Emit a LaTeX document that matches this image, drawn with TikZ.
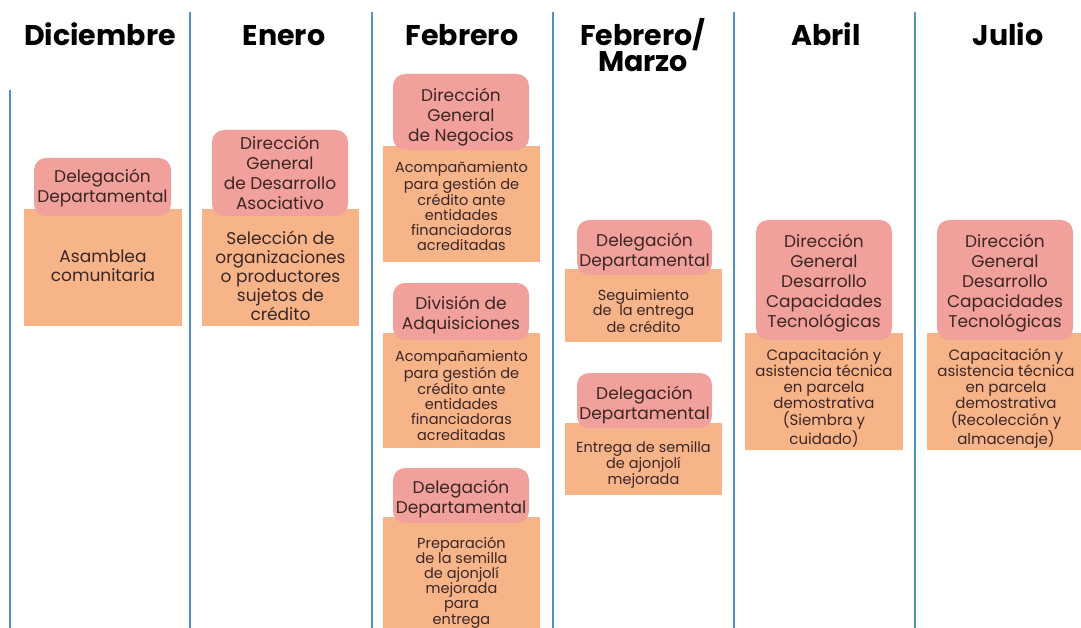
\documentclass[tikz,border=0pt]{standalone}
\usepackage{fontspec}
\setmainfont{Poppins}
\usetikzlibrary{positioning}
\definecolor{orgpink}{HTML}{F1A09B}
\definecolor{taskpeach}{HTML}{F6B488}
\definecolor{lineblue}{HTML}{4F93C2}
\definecolor{boxtext}{HTML}{3B2626}

\begin{document}
\begin{tikzpicture}[x=1pt,y=-1pt,
  lastbase/.style={text height=#1,text depth=0pt},
  orgbox/.style={rectangle,rounded corners=12pt,fill=orgpink,align=center,text=boxtext,inner sep=0pt,font=\fontsize{17}{20}\selectfont,lastbase=36pt},
  taskbox/.style={rectangle,fill=taskpeach,align=center,text=boxtext,inner sep=0pt,font=\fontsize{17}{19}\selectfont},
  smalltask/.style={taskbox,font=\fontsize{14.5}{15.2}\selectfont},
  widetask/.style={taskbox,font=\fontsize{15}{16.2}\selectfont},
  monthlabel/.style={font=\bfseries\fontsize{28.5}{26.5}\selectfont,align=center,anchor=base,inner sep=0pt},
  sepline/.style={lineblue,line width=2pt},
]
\useasboundingbox (0,0) rectangle (1081,628);
\clip (0,0) rectangle (1081,628);

% Month headers
\node[monthlabel] (dic) at (100,46) {Diciembre};
\node[monthlabel] (ene) at (284,46) {Enero};
\node[monthlabel] (feb) at (462,46) {Febrero};
\node[monthlabel] (febmar) at (643,72) {Febrero/\\Marzo};
\node[monthlabel] (abr) at (826,46) {Abril};
\node[monthlabel] (jul) at (1008,46) {Julio};

% Column separators
\draw[sepline] (10,90) -- (10,628);
\foreach \x in {190,372,553,734,915}
  \draw[sepline] (\x,12) -- (\x,628);

% Diciembre
\node[taskbox,minimum width=158pt,minimum height=117pt,lastbase=28pt] (asamblea) at (103,267.5) {Asamblea\\comunitaria};
\node[orgbox,minimum width=137pt,minimum height=58pt,lastbase=31pt] (deldic) at (102.5,187) {Delegación\\Departamental};

% Enero
\node[taskbox,minimum width=157pt,minimum height=117pt,lastbase=105pt] (seleccion) at (280.5,267.5) {Selección de\\organizaciones\\o productores\\sujetos de\\crédito};
\node[orgbox,minimum width=136pt,minimum height=86pt,lastbase=74pt] (dgda) at (280,173) {Dirección\\General\\de Desarrollo\\Asociativo};

% Febrero
\node[smalltask,minimum width=157pt,minimum height=116pt,lastbase=94pt] (acomp1) at (461.5,204) {Acompañamiento\\para gestión de\\crédito ante\\entidades\\financiadoras\\acreditadas};
\node[orgbox,minimum width=136pt,minimum height=76pt,lastbase=60pt] (dgn) at (461,112) {Dirección\\General\\de Negocios};
\node[smalltask,minimum width=157pt,minimum height=115pt,lastbase=99pt] (acomp2) at (461.5,390.5) {Acompañamiento\\para gestión de\\crédito ante\\entidades\\financiadoras\\acreditadas};
\node[orgbox,minimum width=136pt,minimum height=57pt,lastbase=35pt] (divadq) at (461,311.5) {División de\\Adquisiciones};
\node[smalltask,minimum width=157pt,minimum height=126pt,lastbase=88pt] (prepara) at (461.5,580) {Preparación\\de la semilla\\de ajonjolí\\mejorada\\para\\entrega};
\node[orgbox,minimum width=136pt,minimum height=55pt] (delfeb) at (461,495.5) {Delegación\\Departamental};

% Febrero / Marzo
\node[smalltask,minimum width=157pt,minimum height=73pt,lastbase=53pt] (seguim) at (643.5,305.5) {Seguimiento\\de \ la entrega\\de crédito};
\node[orgbox,minimum width=135pt,minimum height=55pt,lastbase=37pt] (delmar1) at (644.5,247.5) {Delegación\\Departamental};
\node[smalltask,minimum width=157pt,minimum height=72pt,lastbase=50pt] (entrega) at (643.5,459) {Entrega de semilla\\de ajonjolí\\mejorada};
\node[orgbox,minimum width=135pt,minimum height=55pt,lastbase=37pt] (delmar2) at (644.5,400.5) {Delegación\\Departamental};

% Abril
\node[widetask,minimum width=158pt,minimum height=117pt,lastbase=105pt] (capsiem) at (824,391.5) {Capacitación y\\asistencia técnica\\en parcela\\demostrativa\\(Siembra y\\cuidado)};
\node[orgbox,minimum width=136pt,minimum height=120pt,lastbase=94pt] (dgdct1) at (824,280) {Dirección\\General\\Desarrollo\\Capacidades\\Tecnológicas};

% Julio
\node[widetask,minimum width=158pt,minimum height=117pt,lastbase=105pt] (caprec) at (1006,391.5) {Capacitación y\\asistencia técnica\\en parcela\\demostrativa\\(Recolección y\\almacenaje)};
\node[orgbox,minimum width=136pt,minimum height=120pt,lastbase=94pt] (dgdct2) at (1005,280) {Dirección\\General\\Desarrollo\\Capacidades\\Tecnológicas};
\end{tikzpicture}
\end{document}
